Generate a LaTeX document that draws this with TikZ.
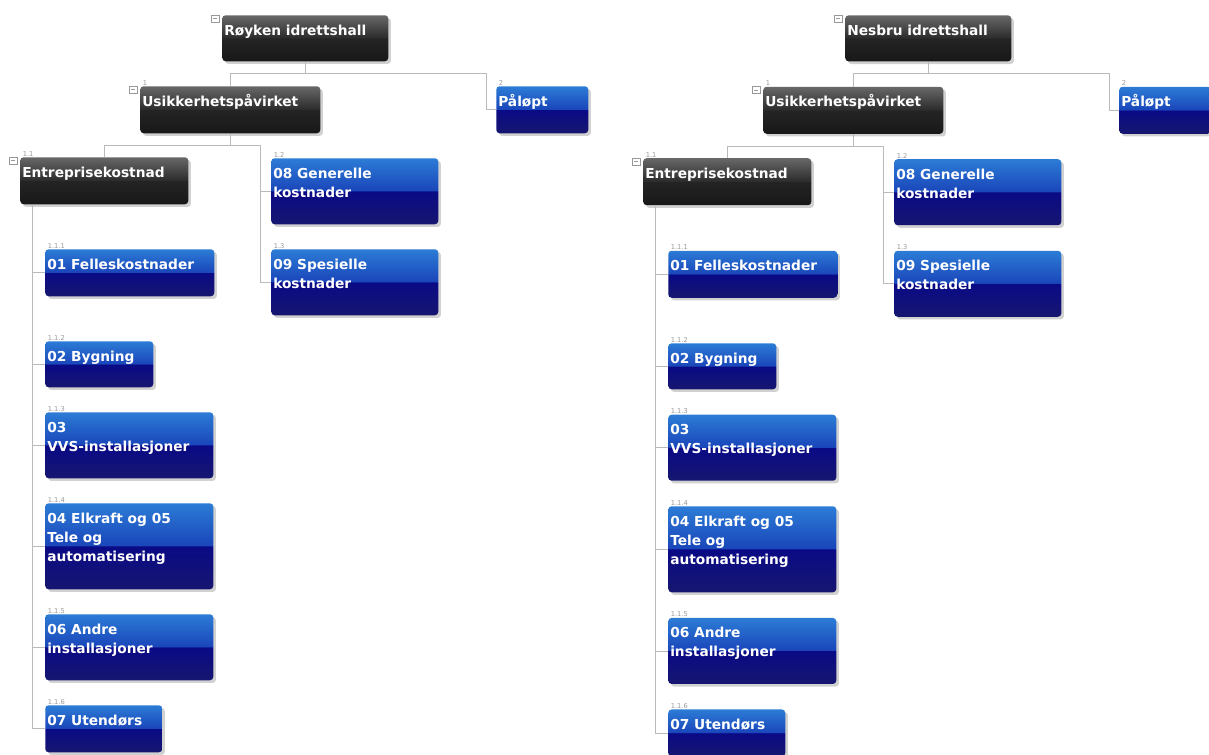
\documentclass[tikz,border=0pt]{standalone}
\usepackage{fontspec}
\setmainfont{DejaVu Sans}
\usetikzlibrary{shadows}

\newdimen\px \px=0.75pt

\definecolor{blueT}{RGB}{44,124,214}
\definecolor{blueM}{RGB}{26,70,186}
\definecolor{navyM}{RGB}{10,10,134}
\definecolor{navyB}{RGB}{22,22,112}
\definecolor{darkT}{RGB}{104,104,104}
\definecolor{darkM}{RGB}{44,44,44}
\definecolor{darkN}{RGB}{36,36,36}
\definecolor{darkB}{RGB}{24,24,24}
\definecolor{linegray}{RGB}{186,186,186}

\pgfdeclareverticalshading{bluegloss}{100bp}{color(0bp)=(navyB); color(25bp)=(navyB); color(50bp)=(navyM); color(50.5bp)=(blueM); color(75bp)=(blueT); color(100bp)=(blueT)}
\pgfdeclareverticalshading{darkgloss}{100bp}{color(0bp)=(darkB); color(25bp)=(darkB); color(50bp)=(darkN); color(50.5bp)=(darkM); color(75bp)=(darkT); color(100bp)=(darkT)}

\tikzset{
  wbs/.style 2 args={anchor=north west, rounded corners=2.5pt,
    inner xsep=1.5pt, inner ysep=0pt, text=white,
    minimum width=#1*0.75pt, minimum height=#2*0.75pt,
    font=\bfseries\fontsize{10.3}{14.25}\selectfont,
    drop shadow={shadow xshift=2pt, shadow yshift=-2pt, fill=black, opacity=0.18},
    execute at begin node={\begin{minipage}[t][#2\px][t]{\dimexpr#1\px-3pt\relax}\raggedright\rule{0pt}{15pt}},
    execute at end node={\end{minipage}}},
  dark/.style={shading=darkgloss},
  blue/.style={shading=bluegloss},
  numlbl/.style={anchor=south west, inner sep=0.4pt, xshift=1.5pt,
    font=\fontsize{5}{5}\selectfont, text=black!40},
  nr/.style={label={[numlbl]north west:#1}},
  edge/.style={draw=linegray, line width=0.75pt},
  minus/.style={draw=black!40, line width=0.5pt, fill=white}
}

\begin{document}
\begin{tikzpicture}[x=0.75pt, y=-0.75pt]
  \fill[white] (0,0) rectangle (1209,755);
  \clip (0,0) rectangle (1209,755);
  \foreach \t/\dx/\sy/\hall in {L/0/1/Røyken idrettshall, R/623/1.006/Nesbru idrettshall} {
    \begin{scope}[shift={(\dx,0)}, yscale=\sy]
      \draw
        (222,15) node[dark, wbs={166}{46}] (\t-0) {\hall}
        (140,86) node[dark, wbs={180}{47}, nr=1] (\t-1) {Usikkerhetspåvirket}
        (496,86) node[blue, wbs={92}{47}, nr=2] (\t-2) {Påløpt}
        (20,157) node[dark, wbs={168}{47}, nr=1.1] (\t-11) {Entreprisekostnad}
        (271,158) node[blue, wbs={167}{66}, nr=1.2] (\t-12) {08 Generelle\\kostnader}
        (271,249) node[blue, wbs={167}{66}, nr=1.3] (\t-13) {09 Spesielle\\kostnader}
        (45,249) node[blue, wbs={169}{47}, nr=1.1.1] (\t-111) {01 Felleskostnader}
        (45,341) node[blue, wbs={108}{46}, nr=1.1.2] (\t-112) {02 Bygning}
        (45,412) node[blue, wbs={168}{66}, nr=1.1.3] (\t-113) {03\\VVS-installasjoner}
        (45,503) node[blue, wbs={168}{86}, nr=1.1.4] (\t-114) {04 Elkraft og 05\\Tele og\\automatisering}
        (45,614) node[blue, wbs={168}{66}, nr=1.1.5] (\t-115) {06 Andre\\installasjoner}
        (45,705) node[blue, wbs={117}{47}, nr=1.1.6] (\t-116) {07 Utendørs};
      \begin{scope}[edge]
        \draw (\t-0.south) -- ++(0,12) -| (\t-1.north);
        \draw (\t-0.south) -- ++(0,12) -| ([xshift=-7.5pt]\t-2.west) -- (\t-2.west);
        \draw (\t-1.south) -- ++(0,12) -| (\t-11.north);
        \draw (\t-1.south) -- ++(0,12) -| ([xshift=-8.25pt]\t-12.west) -- (\t-12.west);
        \draw ([xshift=-8.25pt]\t-12.west) |- (\t-13.west);
        \foreach \c in {111,...,116}
          \draw ([xshift=9pt]\t-11.south west) |- (\t-\c.west);
      \end{scope}
      \foreach \n in {0,1,11}
        \draw[minus] ([shift={(-11,0)}]\t-\n.north west) rectangle ++(8,7)
          ([shift={(-9,3.5)}]\t-\n.north west) -- ++(4,0);
    \end{scope}
  }
\end{tikzpicture}
\end{document}
